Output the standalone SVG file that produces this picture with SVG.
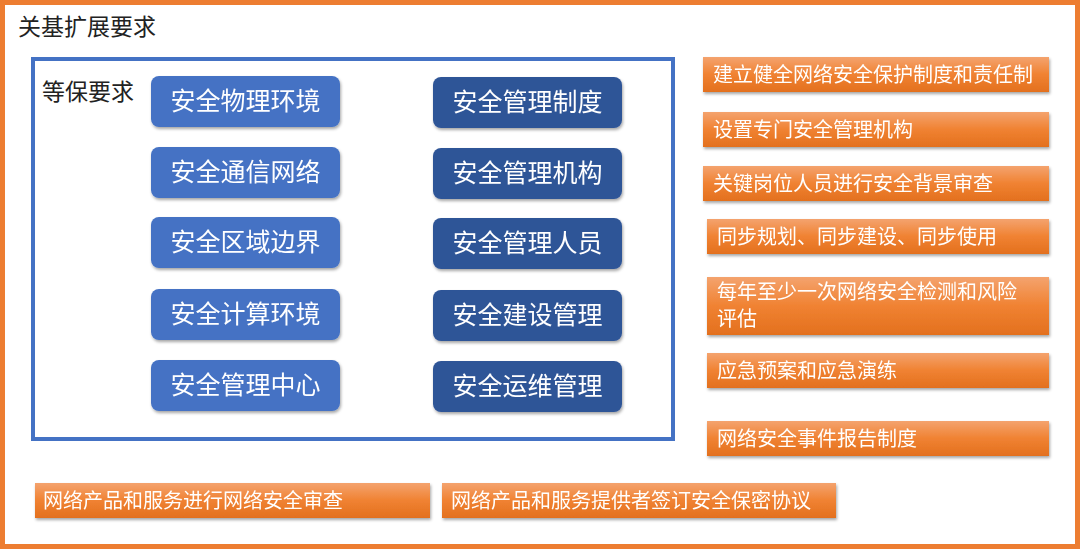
<svg xmlns="http://www.w3.org/2000/svg" width="1080" height="549" viewBox="0 0 1080 549">
<style>
.t{font-family:"Noto Sans CJK SC","Noto Sans",sans-serif}
.bl{fill:#4472C4}
.db{fill:#2F5597}
.bt{fill:#fff;font-size:25px;text-anchor:middle}
.or{fill:url(#og)}
.ot{fill:#fff;font-size:20px}
</style>
<defs>
<linearGradient id="og" x1="0" y1="0" x2="0" y2="1"><stop offset="0" stop-color="#F4A36E"/><stop offset="0.5" stop-color="#F08232"/><stop offset="1" stop-color="#E3701E"/></linearGradient>
<filter id="sh" x="-10%" y="-20%" width="120%" height="150%"><feDropShadow dx="1" dy="2" stdDeviation="1.5" flood-color="#000" flood-opacity="0.35"/></filter>
</defs>
<rect x="0" y="0" width="1080" height="549" fill="#fff"/>
<rect x="2.5" y="2.5" width="1075" height="544" fill="none" stroke="#ED7D31" stroke-width="5"/>
<text class="t" x="18" y="35" font-size="23" fill="#222">关基扩展要求</text>
<g id="frame"><rect x="33" y="59" width="640" height="380" fill="none" stroke="#4472C4" stroke-width="4"/>
<text class="t" x="42" y="100" font-size="23" fill="#222">等保要求</text></g>
<g filter="url(#sh)">
<g id="l1"><rect class="bl" x="151" y="76" width="189" height="51" rx="8"/><text class="t bt" x="245.5" y="110">安全物理环境</text></g>
<g id="l2"><rect class="bl" x="151" y="147" width="189" height="51" rx="8"/><text class="t bt" x="245.5" y="181">安全通信网络</text></g>
<g id="l3"><rect class="bl" x="151" y="217" width="189" height="51" rx="8"/><text class="t bt" x="245.5" y="251">安全区域边界</text></g>
<g id="l4"><rect class="bl" x="151" y="289" width="189" height="51" rx="8"/><text class="t bt" x="245.5" y="323">安全计算环境</text></g>
<g id="l5"><rect class="bl" x="151" y="360" width="189" height="51" rx="8"/><text class="t bt" x="245.5" y="394">安全管理中心</text></g>
<g id="r1"><rect class="db" x="433" y="77" width="189" height="51" rx="8"/><text class="t bt" x="527.5" y="111">安全管理制度</text></g>
<g id="r2"><rect class="db" x="433" y="148" width="189" height="51" rx="8"/><text class="t bt" x="527.5" y="182">安全管理机构</text></g>
<g id="r3"><rect class="db" x="433" y="218" width="189" height="51" rx="8"/><text class="t bt" x="527.5" y="252">安全管理人员</text></g>
<g id="r4"><rect class="db" x="433" y="290" width="189" height="51" rx="8"/><text class="t bt" x="527.5" y="324">安全建设管理</text></g>
<g id="r5"><rect class="db" x="433" y="361" width="189" height="51" rx="8"/><text class="t bt" x="527.5" y="395">安全运维管理</text></g>
<g id="o1"><rect class="or" x="703" y="57" width="346" height="35"/><text class="t ot" x="713" y="82">建立健全网络安全保护制度和责任制</text></g>
<g id="o2"><rect class="or" x="703" y="112" width="346" height="35"/><text class="t ot" x="713" y="137">设置专门安全管理机构</text></g>
<g id="o3"><rect class="or" x="703" y="166" width="346" height="35"/><text class="t ot" x="713" y="191">关键岗位人员进行安全背景审查</text></g>
<g id="o4"><rect class="or" x="707" y="219" width="342" height="35"/><text class="t ot" x="717" y="244">同步规划、同步建设、同步使用</text></g>
<g id="o5"><rect class="or" x="707" y="277" width="342" height="58"/><text class="t ot" x="717" y="299">每年至少一次网络安全检测和风险</text><text class="t ot" x="717" y="326">评估</text></g>
<g id="o6"><rect class="or" x="707" y="353" width="342" height="35"/><text class="t ot" x="717" y="378">应急预案和应急演练</text></g>
<g id="o7"><rect class="or" x="707" y="421" width="342" height="35"/><text class="t ot" x="717" y="446">网络安全事件报告制度</text></g>
<g id="b1"><rect class="or" x="35" y="483" width="395" height="35"/><text class="t ot" x="43" y="508">网络产品和服务进行网络安全审查</text></g>
<g id="b2"><rect class="or" x="442" y="483" width="394" height="35"/><text class="t ot" x="451" y="508">网络产品和服务提供者签订安全保密协议</text></g>
</g>
<g id="connectors"/>
</svg>
